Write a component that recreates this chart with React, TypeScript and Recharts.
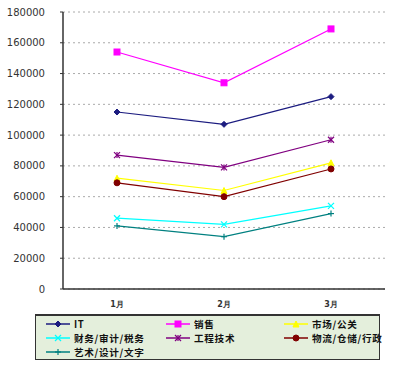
import React from 'react';
import { LineChart, Line, XAxis, YAxis, CartesianGrid } from 'recharts';

const months = ['1月', '2月', '3月'];
const seriesNames = ['IT', '销售', '市场/公关', '财务/审计/税务', '工程技术', '物流/仓储/行政', '艺术/设计/文字'];
const itValues = [115000, 107000, 125000];
const salesValues = [154000, 134000, 169000];
const marketValues = [72000, 64000, 82000];
const financeValues = [46000, 42000, 54000];
const engineeringValues = [87000, 79000, 97000];
const logisticsValues = [69000, 60000, 78000];
const artValues = [41000, 34000, 49000];
const yTicks = [0, 20000, 40000, 60000, 80000, 100000, 120000, 140000, 160000, 180000];

const seriesValues = [itValues, salesValues, marketValues, financeValues, engineeringValues, logisticsValues, artValues];
const colors = ['#1c1c80', '#ff00ff', '#ffff00', '#00ffff', '#800080', '#800000', '#008080'];
const markers = ['diamond', 'square', 'triangle', 'x', 'star', 'circle', 'plus'];

const data = months.map((m, i) => {
  const row: Record<string, any> = { month: m };
  seriesNames.forEach((n, s) => { row['s' + s] = seriesValues[s][i]; });
  return row;
});

function Marker({ cx, cy, type, color }: { cx: number; cy: number; type: string; color: string }) {
  const r = 3;
  switch (type) {
    case 'diamond':
      return <polygon points={`${cx},${cy - r} ${cx + r},${cy} ${cx},${cy + r} ${cx - r},${cy}`} fill={color} stroke={color} />;
    case 'square':
      return <rect x={cx - r} y={cy - r} width={2 * r} height={2 * r} fill={color} stroke={color} />;
    case 'triangle':
      return <polygon points={`${cx},${cy - r} ${cx + r},${cy + r} ${cx - r},${cy + r}`} fill={color} stroke={color} />;
    case 'x':
      return (
        <g stroke={color} strokeWidth={1.2}>
          <line x1={cx - r} y1={cy - r} x2={cx + r} y2={cy + r} />
          <line x1={cx - r} y1={cy + r} x2={cx + r} y2={cy - r} />
        </g>
      );
    case 'star':
      return (
        <g stroke={color} strokeWidth={1.2}>
          <line x1={cx - r} y1={cy - r} x2={cx + r} y2={cy + r} />
          <line x1={cx - r} y1={cy + r} x2={cx + r} y2={cy - r} />
          <line x1={cx} y1={cy - r} x2={cx} y2={cy + r} />
        </g>
      );
    case 'circle':
      return <circle cx={cx} cy={cy} r={r} fill={color} stroke={color} />;
    case 'plus':
    default:
      return (
        <g stroke={color} strokeWidth={1.2}>
          <line x1={cx - r} y1={cy} x2={cx + r} y2={cy} />
          <line x1={cx} y1={cy - r} x2={cx} y2={cy + r} />
        </g>
      );
  }
}

function LegendIcon({ type, color }: { type: string; color: string }) {
  return (
    <svg width={24} height={8} style={{ display: 'block' }}>
      <line x1={0} y1={4} x2={24} y2={4} stroke={color} strokeWidth={1.5} />
      <Marker cx={12} cy={4} type={type} color={color} />
    </svg>
  );
}

const legendCols = [10, 130, 248];

export default function App() {
  return (
    <div style={{ position: 'absolute', left: 0, top: 0, width: 400, height: 372, background: '#fff' }}>
      <LineChart width={400} height={372} data={data} margin={{ top: 12, right: 15, left: 0, bottom: 63 }}>
        <CartesianGrid vertical={false} stroke="#aaa" strokeDasharray="2 3" />
        <XAxis
          dataKey="month"
          padding={{ left: 54, right: 54 }}
          axisLine={{ stroke: '#333', strokeWidth: 1.5 }}
          tickLine={false}
          height={20}
          tickMargin={6}
          tick={{ fontSize: 8, fill: '#333', fontWeight: 'bold', fontFamily: 'DejaVu Sans' }}
        />
        <YAxis
          width={63}
          domain={[0, 180000]}
          ticks={yTicks}
          interval={0}
          axisLine={{ stroke: '#333', strokeWidth: 1.5 }}
          tickLine={{ stroke: '#333' }}
          tickSize={3}
          tickMargin={15}
          tick={{ fontSize: 10, fill: '#333', fontFamily: 'DejaVu Sans' }}
        />
        {seriesNames.map((n, s) => (
          <Line
            key={n}
            name={n}
            dataKey={'s' + s}
            stroke={colors[s]}
            strokeWidth={1.2}
            isAnimationActive={false}
            dot={(p: any) => <Marker key={`${s}-${p.index}`} cx={p.cx} cy={p.cy} type={markers[s]} color={colors[s]} />}
            activeDot={false}
          />
        ))}
      </LineChart>
      <div
        style={{
          position: 'absolute',
          left: 35,
          top: 314,
          width: 343,
          height: 43,
          background: '#e4efdc',
          border: '1px solid #333',
          borderTopWidth: 2,
          fontFamily: '"Noto Sans CJK SC", "DejaVu Sans", sans-serif',
          fontSize: 9.6,
          fontWeight: 'bold',
          color: '#111',
        }}
      >
        {seriesNames.map((n, s) => {
          const col = s % 3;
          const row = Math.floor(s / 3);
          return (
            <div
              key={n}
              style={{
                position: 'absolute',
                left: legendCols[col],
                top: 1 + row * 14,
                height: 14,
                display: 'flex',
                alignItems: 'center',
                whiteSpace: 'nowrap',
                lineHeight: '14px',
              }}
            >
              <LegendIcon type={markers[s]} color={colors[s]} />
              <span style={{ marginLeft: 4, letterSpacing: 0.7, lineHeight: '14px' }}>{n}</span>
            </div>
          );
        })}
      </div>
    </div>
  );
}
